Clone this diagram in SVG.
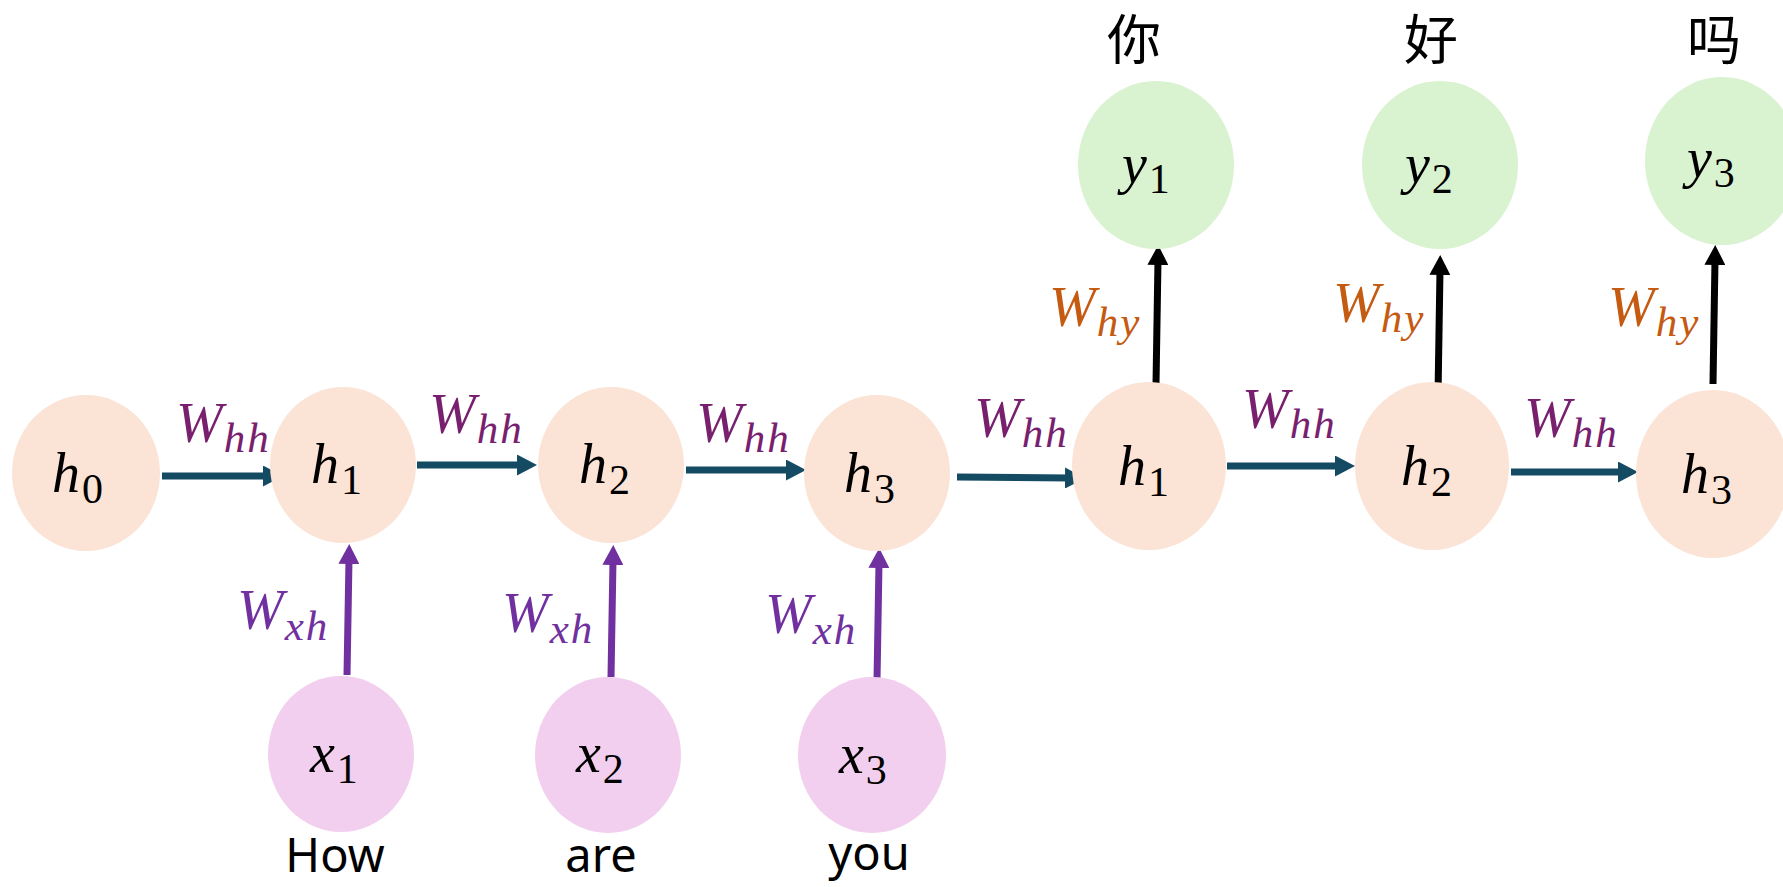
<svg xmlns="http://www.w3.org/2000/svg" width="1783" height="887" viewBox="0 0 1783 887">
<style>
.h{fill:#FBE3D6}.x{fill:#F2CFEE}.y{fill:#D9F2D0}
.m{font-family:"Liberation Serif",serif;font-style:italic;font-size:56px;fill:#000}
.d{font-style:normal;font-size:42px}
.si{font-size:43px;letter-spacing:2px}
.whh{fill:#78206E}.wxh{fill:#7030A0}.why{fill:#C55A11}
.w{font-family:"Noto Sans","Open Sans",sans-serif;font-size:47px;fill:#000;text-anchor:middle}
.cn{font-family:"Noto Sans CJK SC",sans-serif;font-size:54px;fill:#000;text-anchor:middle}
.ah{stroke:#144B62;stroke-width:7;fill:none}
.ax{stroke:#7030A0;stroke-width:7;fill:none}
.ay{stroke:#000;stroke-width:7;fill:none}
</style>
<defs>
<marker id="mh" viewBox="0 0 20 21" refX="5" refY="10.5" markerWidth="20" markerHeight="21" markerUnits="userSpaceOnUse" orient="auto"><path d="M0,0L20,10.5L0,21Z" fill="#144B62"/></marker>
<marker id="mx" viewBox="0 0 20 21" refX="5" refY="10.5" markerWidth="20" markerHeight="21" markerUnits="userSpaceOnUse" orient="auto"><path d="M0,0L20,10.5L0,21Z" fill="#7030A0"/></marker>
<marker id="my" viewBox="0 0 20 21" refX="5" refY="10.5" markerWidth="20" markerHeight="21" markerUnits="userSpaceOnUse" orient="auto"><path d="M0,0L20,10.5L0,21Z" fill="#000"/></marker>
</defs>

<g id="connectors">
<line class="ah" x1="162" y1="476" x2="268" y2="476" marker-end="url(#mh)"/>
<line class="ah" x1="417" y1="465" x2="522" y2="465" marker-end="url(#mh)"/>
<line class="ah" x1="686" y1="470" x2="791" y2="470" marker-end="url(#mh)"/>
<line class="ah" x1="957" y1="477" x2="1070" y2="478" marker-end="url(#mh)"/>
<line class="ah" x1="1227" y1="466" x2="1340" y2="466" marker-end="url(#mh)"/>
<line class="ah" x1="1511" y1="472" x2="1623" y2="472" marker-end="url(#mh)"/>
<line class="ax" x1="347" y1="675" x2="349" y2="559" marker-end="url(#mx)"/>
<line class="ax" x1="611" y1="677" x2="613" y2="560" marker-end="url(#mx)"/>
<line class="ax" x1="877" y1="680" x2="879" y2="563" marker-end="url(#mx)"/>
<line class="ay" x1="1156" y1="384" x2="1158" y2="260" marker-end="url(#my)"/>
<line class="ay" x1="1438" y1="395" x2="1440" y2="270" marker-end="url(#my)"/>
<line class="ay" x1="1713" y1="384" x2="1715" y2="260" marker-end="url(#my)"/>
<text class="m whh" x="176" y="442">W<tspan class="si" dx="1" dy="10">hh</tspan></text>
<text class="m whh" x="429" y="433">W<tspan class="si" dx="1" dy="10">hh</tspan></text>
<text class="m whh" x="696" y="442">W<tspan class="si" dx="1" dy="10">hh</tspan></text>
<text class="m whh" x="974" y="437">W<tspan class="si" dx="1" dy="10">hh</tspan></text>
<text class="m whh" x="1242" y="428">W<tspan class="si" dx="1" dy="10">hh</tspan></text>
<text class="m whh" x="1524" y="437">W<tspan class="si" dx="1" dy="10">hh</tspan></text>
<text class="m wxh" x="237" y="629">W<tspan class="si" dx="1" dy="11">xh</tspan></text>
<text class="m wxh" x="502" y="632">W<tspan class="si" dx="1" dy="11">xh</tspan></text>
<text class="m wxh" x="765" y="633">W<tspan class="si" dx="1" dy="11">xh</tspan></text>
<text class="m why" x="1049" y="326">W<tspan class="si" dx="1" dy="10">hy</tspan></text>
<text class="m why" x="1333" y="322">W<tspan class="si" dx="1" dy="10">hy</tspan></text>
<text class="m why" x="1608" y="326">W<tspan class="si" dx="1" dy="10">hy</tspan></text>
</g>

<g id="h0"><ellipse class="h" cx="86" cy="473" rx="74" ry="78"/><text class="m" x="52" y="492">h<tspan class="d" dx="2" dy="11">0</tspan></text></g>
<g id="h1"><ellipse class="h" cx="343" cy="465" rx="73" ry="78"/><text class="m" x="311" y="483">h<tspan class="d" dx="2" dy="11">1</tspan></text></g>
<g id="h2"><ellipse class="h" cx="611" cy="465" rx="73" ry="78"/><text class="m" x="579" y="483">h<tspan class="d" dx="2" dy="11">2</tspan></text></g>
<g id="h3"><ellipse class="h" cx="877" cy="473" rx="73" ry="78"/><text class="m" x="844" y="492">h<tspan class="d" dx="2" dy="11">3</tspan></text></g>
<g id="h1b"><ellipse class="h" cx="1149" cy="466" rx="77" ry="84"/><text class="m" x="1118" y="485">h<tspan class="d" dx="2" dy="11">1</tspan></text></g>
<g id="h2b"><ellipse class="h" cx="1432" cy="466" rx="77" ry="84"/><text class="m" x="1401" y="485">h<tspan class="d" dx="2" dy="11">2</tspan></text></g>
<g id="h3b"><ellipse class="h" cx="1713" cy="474" rx="77" ry="84"/><text class="m" x="1681" y="493">h<tspan class="d" dx="2" dy="11">3</tspan></text></g>

<g id="x1"><ellipse class="x" cx="341" cy="754" rx="73" ry="78"/><text class="m" x="310" y="772">x<tspan class="d" dx="2" dy="11">1</tspan></text><text class="w" x="335" y="872">How</text></g>
<g id="x2"><ellipse class="x" cx="608" cy="755" rx="73" ry="78"/><text class="m" x="576" y="772">x<tspan class="d" dx="2" dy="11">2</tspan></text><text class="w" x="601" y="872">are</text></g>
<g id="x3"><ellipse class="x" cx="872" cy="755" rx="74" ry="78"/><text class="m" x="839" y="773">x<tspan class="d" dx="2" dy="11">3</tspan></text><text class="w" x="869" y="870">you</text></g>

<g id="y1"><ellipse class="y" cx="1156" cy="165" rx="78" ry="84"/><text class="m" x="1122" y="183">y<tspan class="d" dx="2" dy="10">1</tspan></text><text class="cn" x="1134" y="60">你</text></g>
<g id="y2"><ellipse class="y" cx="1440" cy="165" rx="78" ry="84"/><text class="m" x="1405" y="183">y<tspan class="d" dx="2" dy="10">2</tspan></text><text class="cn" x="1431" y="60">好</text></g>
<g id="y3"><ellipse class="y" cx="1722" cy="161" rx="77" ry="84"/><text class="m" x="1687" y="177">y<tspan class="d" dx="2" dy="10">3</tspan></text><text class="cn" x="1714" y="60">吗</text></g>
</svg>
